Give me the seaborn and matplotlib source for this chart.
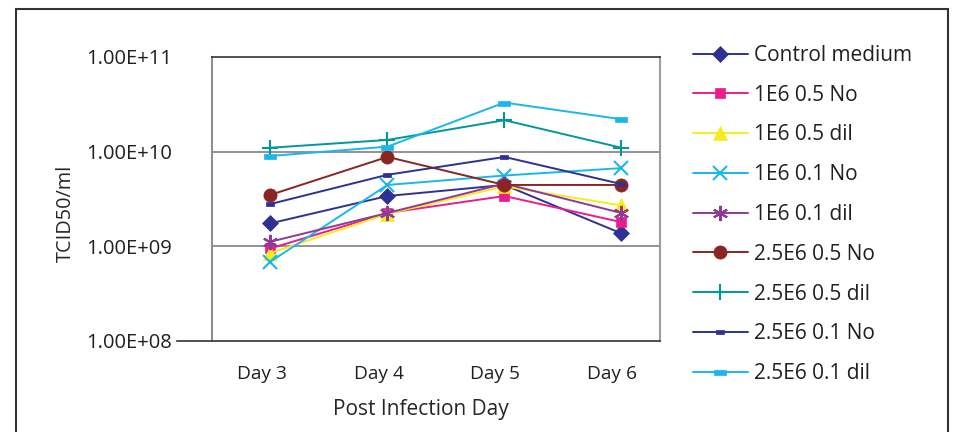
import pandas as pd
import seaborn as sns
import matplotlib.pyplot as plt
import matplotlib.transforms as mtransforms
from matplotlib.patches import Rectangle
from matplotlib.ticker import FixedLocator, FuncFormatter, NullLocator

days = ["Day 3", "Day 4", "Day 5", "Day 6"]

control_medium = [1.75e9, 3.4e9, 4.45e9, 1.37e9]
e6_05_no = [0.95e9, 2.25e9, 3.4e9, 1.8e9]
e6_05_dil = [0.85e9, 2.2e9, 4.3e9, 2.7e9]
e6_01_no = [0.69e9, 4.45e9, 5.6e9, 6.7e9]
e6_01_dil = [1.12e9, 2.25e9, 4.6e9, 2.25e9]
e25_05_no = [3.5e9, 8.8e9, 4.45e9, 4.45e9]
e25_05_dil = [1.1e10, 1.33e10, 2.15e10, 1.1e10]
e25_01_no = [2.8e9, 5.7e9, 8.8e9, 4.55e9]
e25_01_dil = [9.0e9, 1.13e10, 3.3e10, 2.2e10]

series_names = ["Control medium", "1E6 0.5 No", "1E6 0.5 dil", "1E6 0.1 No",
                "1E6 0.1 dil", "2.5E6 0.5 No", "2.5E6 0.5 dil",
                "2.5E6 0.1 No", "2.5E6 0.1 dil"]
series_values = [control_medium, e6_05_no, e6_05_dil, e6_01_no, e6_01_dil,
                 e25_05_no, e25_05_dil, e25_01_no, e25_01_dil]

# marker styles (Excel-like)
small_rect = [(-1, -0.5), (1, -0.5), (1, 0.5), (-1, 0.5), (-1, -0.5)]
wide_rect = [(-1, -0.4), (1, -0.4), (1, 0.4), (-1, 0.4), (-1, -0.4)]
styles = {
    "Control medium": dict(color="#2E3192", marker="D", ms=8.5, mew=0.5),
    "1E6 0.5 No": dict(color="#EC1C8C", marker="s", ms=7.5, mew=0.5),
    "1E6 0.5 dil": dict(color="#F7EC1B", marker="^", ms=9.5, mew=0.5),
    "1E6 0.1 No": dict(color="#1AB7EA", marker="x", ms=9.5, mew=1.5),
    "1E6 0.1 dil": dict(color="#8E3A96", marker=(6, 2, 0), ms=11, mew=1.5),
    "2.5E6 0.5 No": dict(color="#8B2524", marker="o", ms=9.5, mew=0.5),
    "2.5E6 0.5 dil": dict(color="#00989A", marker="+", ms=11, mew=1.5),
    "2.5E6 0.1 No": dict(color="#2E3192", marker=small_rect, ms=6, mew=0.5),
    "2.5E6 0.1 dil": dict(color="#1AB7EA", marker=wide_rect, ms=9, mew=0.5),
}

rows = []
for name, vals in zip(series_names, series_values):
    for d, v in zip(days, vals):
        rows.append({"Series": name, "Day": d, "TCID50/ml": v})
df = pd.DataFrame(rows)

sns.set_style("white")
plt.rcParams["font.family"] = ["Open Sans", "DejaVu Sans"]
plt.rcParams["text.color"] = "#231F20"

fig = plt.figure(figsize=(9.54, 4.32), dpi=100)
ax = fig.add_axes([212 / 954, 1 - 341 / 432, (660 - 212) / 954, (341 - 57) / 432])

for name in series_names:
    st = styles[name]
    sub = df[df["Series"] == name]
    sns.lineplot(data=sub, x="Day", y="TCID50/ml", ax=ax, color=st["color"],
                 marker=st["marker"], markersize=st["ms"], linewidth=1.4,
                 markeredgewidth=st["mew"], markeredgecolor=st["color"],
                 label=name, sort=False)

ax.set_yscale("log")
ax.set_ylim(1e8, 1e11)
ax.set_xlim(-0.5, 3.33)
ax.yaxis.set_major_locator(FixedLocator([1e8, 1e9, 1e10, 1e11]))
ax.yaxis.set_minor_locator(NullLocator())
ax.yaxis.set_major_formatter(FuncFormatter(lambda v, p: f"{v:.2E}"))

ax.set_xticks(range(len(days)))
ax.set_xticklabels(days)
ax.set_xticks([-0.5, 0.5, 1.5, 2.5], minor=True)
ax.tick_params(axis="x", which="major", length=0, pad=17, labelsize=13.8, labelcolor="#231F20")
ax.tick_params(axis="x", which="minor", length=7, width=1, color="#333333", direction="out")
ax.tick_params(axis="y", which="major", length=7, width=1, color="#333333",
               direction="out", pad=22, labelsize=14.5, labelcolor="#231F20")

# Excel places the category labels slightly left of the points
shift = mtransforms.ScaledTranslation(-9 / 100, 0, fig.dpi_scale_trans)
for lbl in ax.get_xticklabels():
    lbl.set_transform(lbl.get_transform() + shift)

for v in [1e9, 1e10]:
    ax.axhline(v, color="#8a8a8a", linewidth=1.3, zorder=0)

ax.spines["top"].set_color("#333333")
ax.spines["top"].set_linewidth(1.2)
ax.spines["right"].set_color("#9a9ea3")
ax.spines["right"].set_linewidth(1.5)
ax.spines["left"].set_color("#8c9096")
ax.spines["left"].set_linewidth(1.5)
ax.spines["bottom"].set_color("#333333")
ax.spines["bottom"].set_linewidth(1.2)
ax.spines["bottom"].set_bounds(-0.8, 3.33)

ax.set_xlabel("Post Infection Day", fontsize=15)
ax.set_ylabel("TCID50/ml", fontsize=14.3)
ax.xaxis.label.set_va("center")
ax.yaxis.label.set_va("center")
ax.xaxis.set_label_coords((421 - 212) / 448, (341 - 409) / 284)
ax.yaxis.set_label_coords((66 - 212) / 448, (341 - 213) / 284)

ax.legend(loc="upper left", bbox_to_anchor=(693 / 954, 1 - 45 / 432),
          bbox_transform=fig.transFigure, frameon=False, fontsize=15,
          handlelength=2.64, handletextpad=0.3, labelspacing=0.9,
          borderpad=0, borderaxespad=0)

fig.patches.append(Rectangle((16 / 954, -0.1), (948 - 16) / 954, 1.1 - 9 / 432,
                             transform=fig.transFigure, fill=False,
                             edgecolor="#333333", linewidth=1.5))

fig.savefig("out.png", dpi=100)
